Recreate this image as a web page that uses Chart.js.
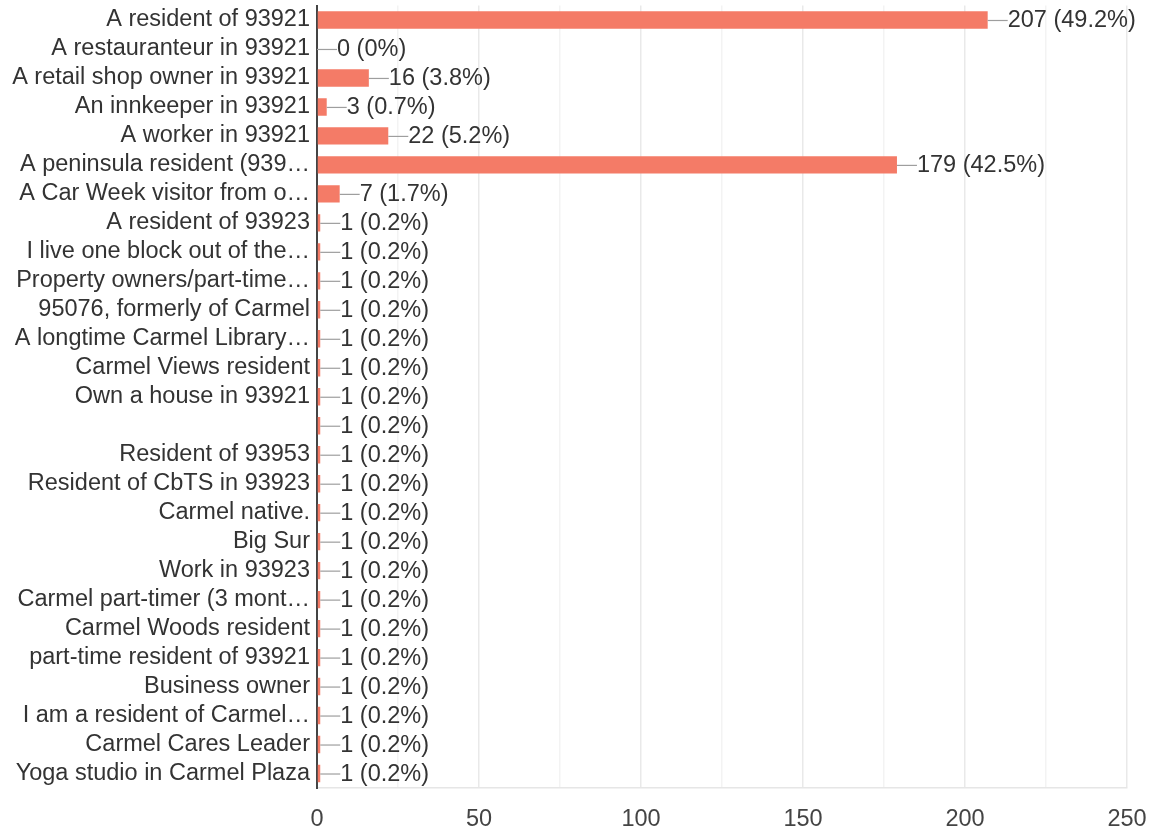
<!DOCTYPE html>
<html>
<head>
<meta charset="utf-8">
<script src="https://cdn.jsdelivr.net/npm/chart.js@4"></script>
<style>
  html, body { margin: 0; padding: 0; background: #fff; }
  #chart { display: block; }
</style>
</head>
<body>
<canvas id="chart" width="1150" height="832"></canvas>
<script>
const categories = [
  'A resident of 93921',
  'A restauranteur in 93921',
  'A retail shop owner in 93921',
  'An innkeeper in 93921',
  'A worker in 93921',
  'A peninsula resident (939…',
  'A Car Week visitor from o…',
  'A resident of 93923',
  'I live one block out of the…',
  'Property owners/part-time…',
  '95076, formerly of Carmel',
  'A longtime Carmel Library…',
  'Carmel Views resident',
  'Own a house in 93921',
  '',
  'Resident of 93953',
  'Resident of CbTS in 93923',
  'Carmel native.',
  'Big Sur',
  'Work in 93923',
  'Carmel part-timer (3 mont…',
  'Carmel Woods resident',
  'part-time resident of 93921',
  'Business owner',
  'I am a resident of Carmel…',
  'Carmel Cares Leader',
  'Yoga studio in Carmel Plaza'
];
const counts = [207, 0, 16, 3, 22, 179, 7,
  1, 1, 1, 1, 1, 1, 1, 1, 1, 1, 1, 1, 1, 1, 1, 1, 1, 1, 1, 1];
const percents = ['49.2%', '0%', '3.8%', '0.7%', '5.2%', '42.5%', '1.7%',
  '0.2%', '0.2%', '0.2%', '0.2%', '0.2%', '0.2%', '0.2%', '0.2%', '0.2%',
  '0.2%', '0.2%', '0.2%', '0.2%', '0.2%', '0.2%', '0.2%', '0.2%', '0.2%',
  '0.2%', '0.2%'];
const xTicks = [0, 50, 100, 150, 200, 250];

const FONT = "'Liberation Sans', Arial, sans-serif";
const FSIZE = 23.5;

// connector line + "n (p%)" after each bar
const valueLabels = {
  id: 'valueLabels',
  afterDatasetsDraw(chart) {
    const ctx = chart.ctx;
    const meta = chart.getDatasetMeta(0);
    ctx.save();
    ctx.font = FSIZE + 'px ' + FONT;
    ctx.textBaseline = 'middle';
    ctx.textAlign = 'left';
    meta.data.forEach((bar, i) => {
      const x = bar.x;
      const y = bar.y;
      ctx.strokeStyle = '#9e9e9e';
      ctx.lineWidth = 1.2;
      ctx.beginPath();
      ctx.moveTo(x, y + 0.5);
      ctx.lineTo(x + 20, y + 0.5);
      ctx.stroke();
      ctx.fillStyle = '#333333';
      ctx.fillText(counts[i] + ' (' + percents[i] + ')', x + 20, y + 1);
    });
    ctx.restore();
  }
};

new Chart(document.getElementById('chart'), {
  type: 'bar',
  data: {
    labels: categories,
    datasets: [{
      data: counts,
      backgroundColor: '#f47b67',
      borderWidth: 0,
      barPercentage: 0.6,
      categoryPercentage: 1.0
    }]
  },
  options: {
    indexAxis: 'y',
    responsive: false,
    animation: false,
    devicePixelRatio: 1,
    layout: { padding: { top: 5.5, right: 23, left: 0, bottom: 0 } },
    plugins: {
      legend: { display: false },
      tooltip: { enabled: false }
    },
    scales: {
      x: {
        min: 0,
        max: 250,
        afterBuildTicks: (scale) => {
          const t = [];
          for (let v = 0; v <= 250; v += 25) t.push({ value: v });
          scale.ticks = t;
        },
        afterFit: (scale) => {
          scale.height = 44;
          scale.paddingLeft = 0;
          scale.paddingRight = 0;
        },
        border: { display: true, color: '#e6e6e6', width: 1.5 },
        grid: {
          drawTicks: false,
          color: (c) => (xTicks.includes(c.tick.value) ? '#e9e9e9' : '#f3f3f3'),
          lineWidth: 1.5
        },
        ticks: {
          padding: 17,
          autoSkip: false,
          maxRotation: 0,
          color: '#444444',
          font: { family: FONT, size: FSIZE },
          callback: (v) => (xTicks.includes(v) ? String(v) : '')
        }
      },
      y: {
        afterFit: (scale) => {
          scale.width = 317;
          scale.paddingTop = 0;
          scale.paddingBottom = 0;
        },
        border: { display: true, color: '#444444', width: 2 },
        grid: { display: false, drawTicks: false },
        ticks: {
          padding: 7,
          autoSkip: false,
          color: '#333333',
          font: { family: FONT, size: FSIZE }
        }
      }
    }
  },
  plugins: [valueLabels]
});
</script>
</body>
</html>
